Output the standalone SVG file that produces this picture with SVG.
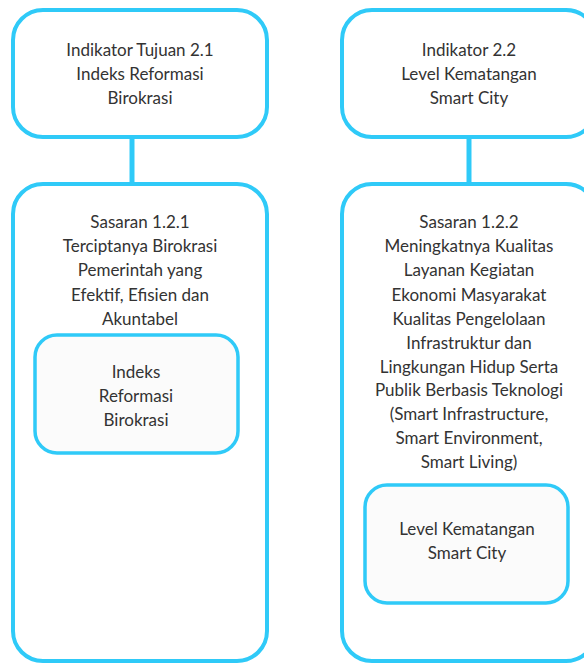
<svg xmlns="http://www.w3.org/2000/svg" width="584" height="664" viewBox="0 0 584 664">
<style>
.box{fill:#ffffff;stroke:#2fcaf8;stroke-width:4}
.inner{fill:#fbfbfb;stroke:#2fcaf8;stroke-width:3.5}
.conn{stroke:#2fcaf8;stroke-width:5;fill:none}
text{font-family:Lato,"Noto Sans",sans-serif;font-size:17px;fill:#333333;text-anchor:middle}
</style>
<rect width="584" height="664" fill="#ffffff"/>
<g id="connectors">
<line class="conn" x1="132" y1="137" x2="132" y2="184"/>
<line class="conn" x1="469" y1="137" x2="469" y2="184"/>
</g>
<g id="ind21">
<rect class="box" x="13" y="10" width="254" height="127" rx="30"/>
<text x="140" y="56">Indikator Tujuan 2.1</text>
<text x="140" y="80">Indeks Reformasi</text>
<text x="140" y="104">Birokrasi</text>
</g>
<g id="ind22">
<rect class="box" x="342" y="10" width="254" height="127" rx="30"/>
<text x="469" y="56">Indikator 2.2</text>
<text x="469" y="80">Level Kematangan</text>
<text x="469" y="104">Smart City</text>
</g>
<g id="sas121">
<rect class="box" x="13" y="184" width="254" height="477" rx="30"/>
<text x="140" y="228">Sasaran 1.2.1</text>
<text x="140" y="252">Terciptanya Birokrasi</text>
<text x="140" y="276">Pemerintah yang</text>
<text x="140" y="301">Efektif, Efisien dan</text>
<text x="140" y="325">Akuntabel</text>
</g>
<g id="irb">
<rect class="inner" x="35" y="335" width="203" height="118" rx="22"/>
<text x="136" y="378">Indeks</text>
<text x="136" y="402">Reformasi</text>
<text x="136" y="426">Birokrasi</text>
</g>
<g id="sas122">
<rect class="box" x="342" y="184" width="254" height="477" rx="30"/>
<text x="469" y="228">Sasaran 1.2.2</text>
<text x="469" y="252">Meningkatnya Kualitas</text>
<text x="469" y="276">Layanan Kegiatan</text>
<text x="469" y="301">Ekonomi Masyarakat</text>
<text x="469" y="325">Kualitas Pengelolaan</text>
<text x="469" y="349">Infrastruktur dan</text>
<text x="469" y="373">Lingkungan Hidup Serta</text>
<text x="469" y="396">Publik Berbasis Teknologi</text>
<text x="469" y="420">(Smart Infrastructure,</text>
<text x="469" y="444">Smart Environment,</text>
<text x="469" y="468">Smart Living)</text>
</g>
<g id="lksc">
<rect class="inner" x="365" y="485" width="203" height="118" rx="22"/>
<text x="467" y="535">Level Kematangan</text>
<text x="467" y="559">Smart City</text>
</g>
</svg>
